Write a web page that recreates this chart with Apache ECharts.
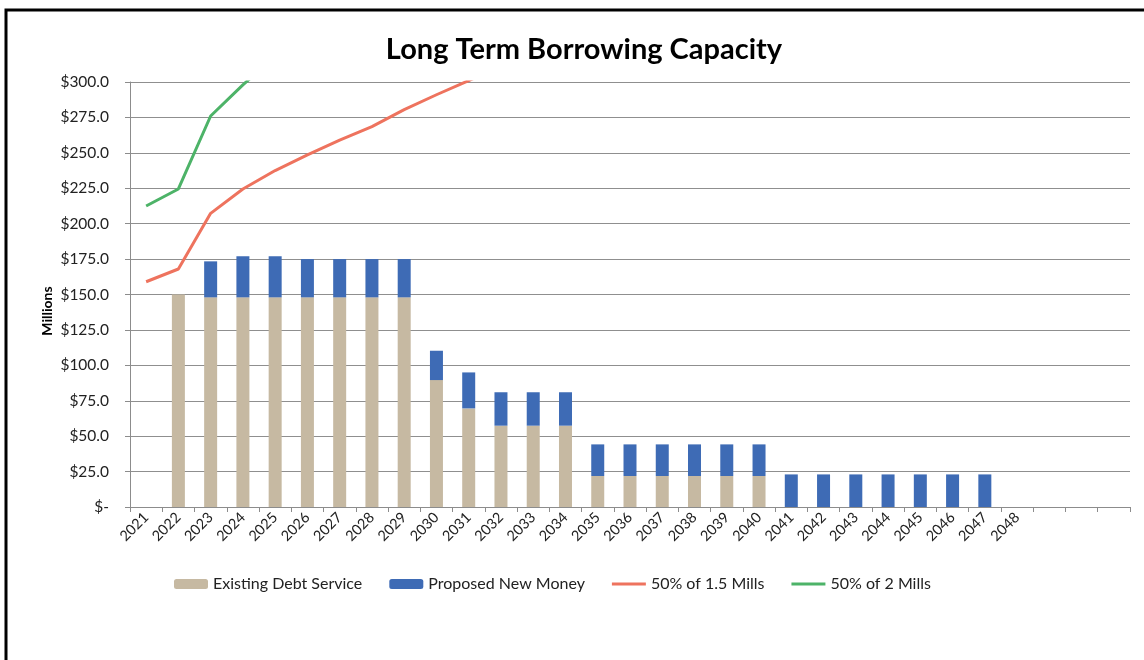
<!DOCTYPE html>
<html>
<head>
<meta charset="utf-8">
<script src="https://cdn.jsdelivr.net/npm/echarts@6/dist/echarts.min.js"></script>
<style>
html,body{margin:0;padding:0;background:#fff;}
#chart{width:1144px;height:660px;}
</style>
</head>
<body>
<div id="chart"></div>
<script>
const categories = ['2021','2022','2023','2024','2025','2026','2027','2028','2029','2030','2031','2032','2033','2034','2035','2036','2037','2038','2039','2040','2041','2042','2043','2044','2045','2046','2047','2048','','',''];
const existingDebt = [null,150,148,148,148,148,148,148,148,89.6,69.6,57.4,57.4,57.4,21.9,21.9,21.9,21.9,21.9,21.9,null,null,null,null,null,null,null,null,null,null,null];
const newMoney = [null,null,25.4,29,29,27,27,27,27,20.7,25.4,23.6,23.6,23.6,22.3,22.3,22.3,22.3,22.3,22.3,23,23,23,23,23,23,23,null,null,null,null];
const mills15 = [159,168,207.3,224.5,237.5,248.5,259,268.5,280.5,291,301,311];
const mills2 = [212.5,224.5,276,298,318];
const yTicks = {min:0, max:300, interval:25};

const chart = echarts.init(document.getElementById('chart'));
const FONT = 'Lato';
const LINE_ICON = 'path://M0,0h0.01v0.01z M0,3.6h34v2.8h-34z M0,10h0.01v0.01z';
chart.setOption({
  animation:false,
  backgroundColor:'#fff',
  textStyle:{fontFamily:FONT},
  graphic:[
    {type:'rect',shape:{x:6,y:10,width:1200,height:700},style:{fill:'none',stroke:'#000',lineWidth:3},z:100},
    {type:'text',x:47,y:311,rotation:Math.PI/2,z:50,
      style:{text:'Millions',align:'center',verticalAlign:'middle',fontFamily:FONT,fontSize:14,fontWeight:'bold',fill:'#000'}}
  ],
  title:{text:'Long Term Borrowing Capacity',left:579,textAlign:'center',top:30,
    textStyle:{fontFamily:FONT,fontSize:29,fontWeight:'bold',color:'#000'}},
  legend:{left:169,top:571,itemWidth:34,itemHeight:10,itemGap:27,itemStyle:{borderWidth:0},
    textStyle:{fontFamily:FONT,fontSize:16,color:'#222'},
    data:['Existing Debt Service','Proposed New Money',
      {name:'50% of 1.5 Mills',icon:LINE_ICON},{name:'50% of 2 Mills',icon:LINE_ICON}]},
  grid:{left:130,right:14,top:82,bottom:153,containLabel:false},
  xAxis:{type:'category',data:categories,boundaryGap:true,
    axisLine:{lineStyle:{color:'#8c8c8c',width:1}},
    axisTick:{show:true,length:5,lineStyle:{color:'#8c8c8c'},interval:0},
    axisLabel:{rotate:45,interval:0,fontFamily:FONT,fontSize:14.5,color:'#222',margin:8},
    splitLine:{show:false}},
  yAxis:{type:'value',min:yTicks.min,max:yTicks.max,interval:yTicks.interval,
    axisLine:{show:true,lineStyle:{color:'#8c8c8c'}},
    axisTick:{show:true,length:5,lineStyle:{color:'#8c8c8c'}},
    axisLabel:{fontFamily:FONT,fontSize:15.5,color:'#222',margin:21,
      formatter:v=> v===0 ? '$-' : '$'+v.toFixed(1)},
    splitLine:{show:true,lineStyle:{color:'#8f8f8f',width:1}}},
  series:[
    {name:'Existing Debt Service',type:'bar',stack:'total',data:existingDebt,barWidth:13,
      itemStyle:{color:'#C6B9A2'}},
    {name:'Proposed New Money',type:'bar',stack:'total',data:newMoney,barWidth:13,
      itemStyle:{color:'#3E6BB5'}},
    {name:'50% of 1.5 Mills',type:'line',data:mills15,symbol:'none',clip:true,
      lineStyle:{color:'#EE735E',width:3},itemStyle:{color:'#EE735E'}},
    {name:'50% of 2 Mills',type:'line',data:mills2,symbol:'none',clip:true,
      lineStyle:{color:'#4DB368',width:3},itemStyle:{color:'#4DB368'}}
  ]
});
</script>
</body>
</html>
